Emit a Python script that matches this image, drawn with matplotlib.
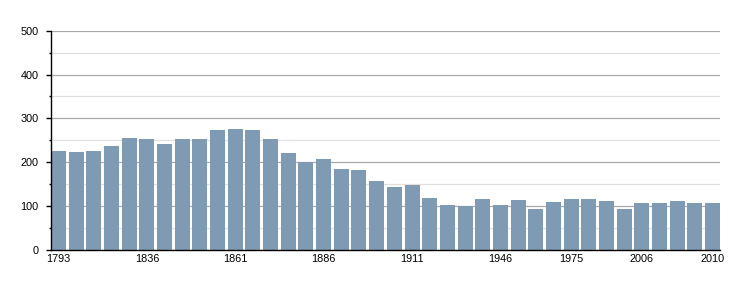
import numpy as np
import matplotlib.pyplot as plt

years = [1793, 1800, 1806, 1821, 1831, 1836, 1841, 1846, 1851, 1856,
         1861, 1866, 1872, 1876, 1881, 1886, 1891, 1896, 1901, 1906,
         1911, 1921, 1926, 1931, 1936, 1946, 1954, 1962, 1968, 1975,
         1982, 1990, 1999, 2006, 2007, 2008, 2009, 2010]
population = [226, 223, 226, 237, 255, 253, 242, 253, 253, 274,
              276, 274, 253, 221, 201, 207, 185, 182, 157, 144,
              148, 118, 103, 100, 116, 103, 114, 93, 109, 116,
              116, 112, 93, 107, 107, 112, 107, 107]
labelled_years = [1793, 1836, 1861, 1886, 1911, 1946, 1975, 2006, 2010]

plt.rcParams['font.family'] = ['Liberation Sans', 'DejaVu Sans']

fig = plt.figure(figsize=(7.5, 3), dpi=100)
ax = fig.add_axes([51 / 750, 50 / 300, 669 / 750, 219.3 / 300])

x = np.arange(len(years))
ax.bar(x, population, width=0.85, color='#7f9ab3', zorder=3)

# grid: major every 100, minor every 50
ax.set_ylim(0, 500)
ax.set_yticks(range(0, 501, 100))
ax.set_yticks(range(50, 500, 100), minor=True)
ax.grid(axis='y', which='major', color='#aaaaaa', linewidth=0.9, zorder=0)
ax.grid(axis='y', which='minor', color='#e0e0e0', linewidth=0.9, zorder=0)

ax.set_xlim(-0.425, len(years) - 0.575)
ticks = [years.index(y) for y in labelled_years]
ax.set_xticks(ticks)
ax.set_xticklabels([str(y) for y in labelled_years])

for s in ['top', 'right']:
    ax.spines[s].set_visible(False)
ax.spines['left'].set_linewidth(1.0)
ax.spines['bottom'].set_linewidth(1.0)
ax.spines['left'].set_zorder(4)
ax.spines['bottom'].set_zorder(4)

ax.tick_params(axis='y', which='major', length=3.6, width=1, labelsize=7.8, pad=5.5, colors='black')
ax.tick_params(axis='y', which='minor', length=1.5, width=1)
ax.tick_params(axis='x', length=0, labelsize=7.8, pad=3)

fig.savefig('out.png', dpi=100)
